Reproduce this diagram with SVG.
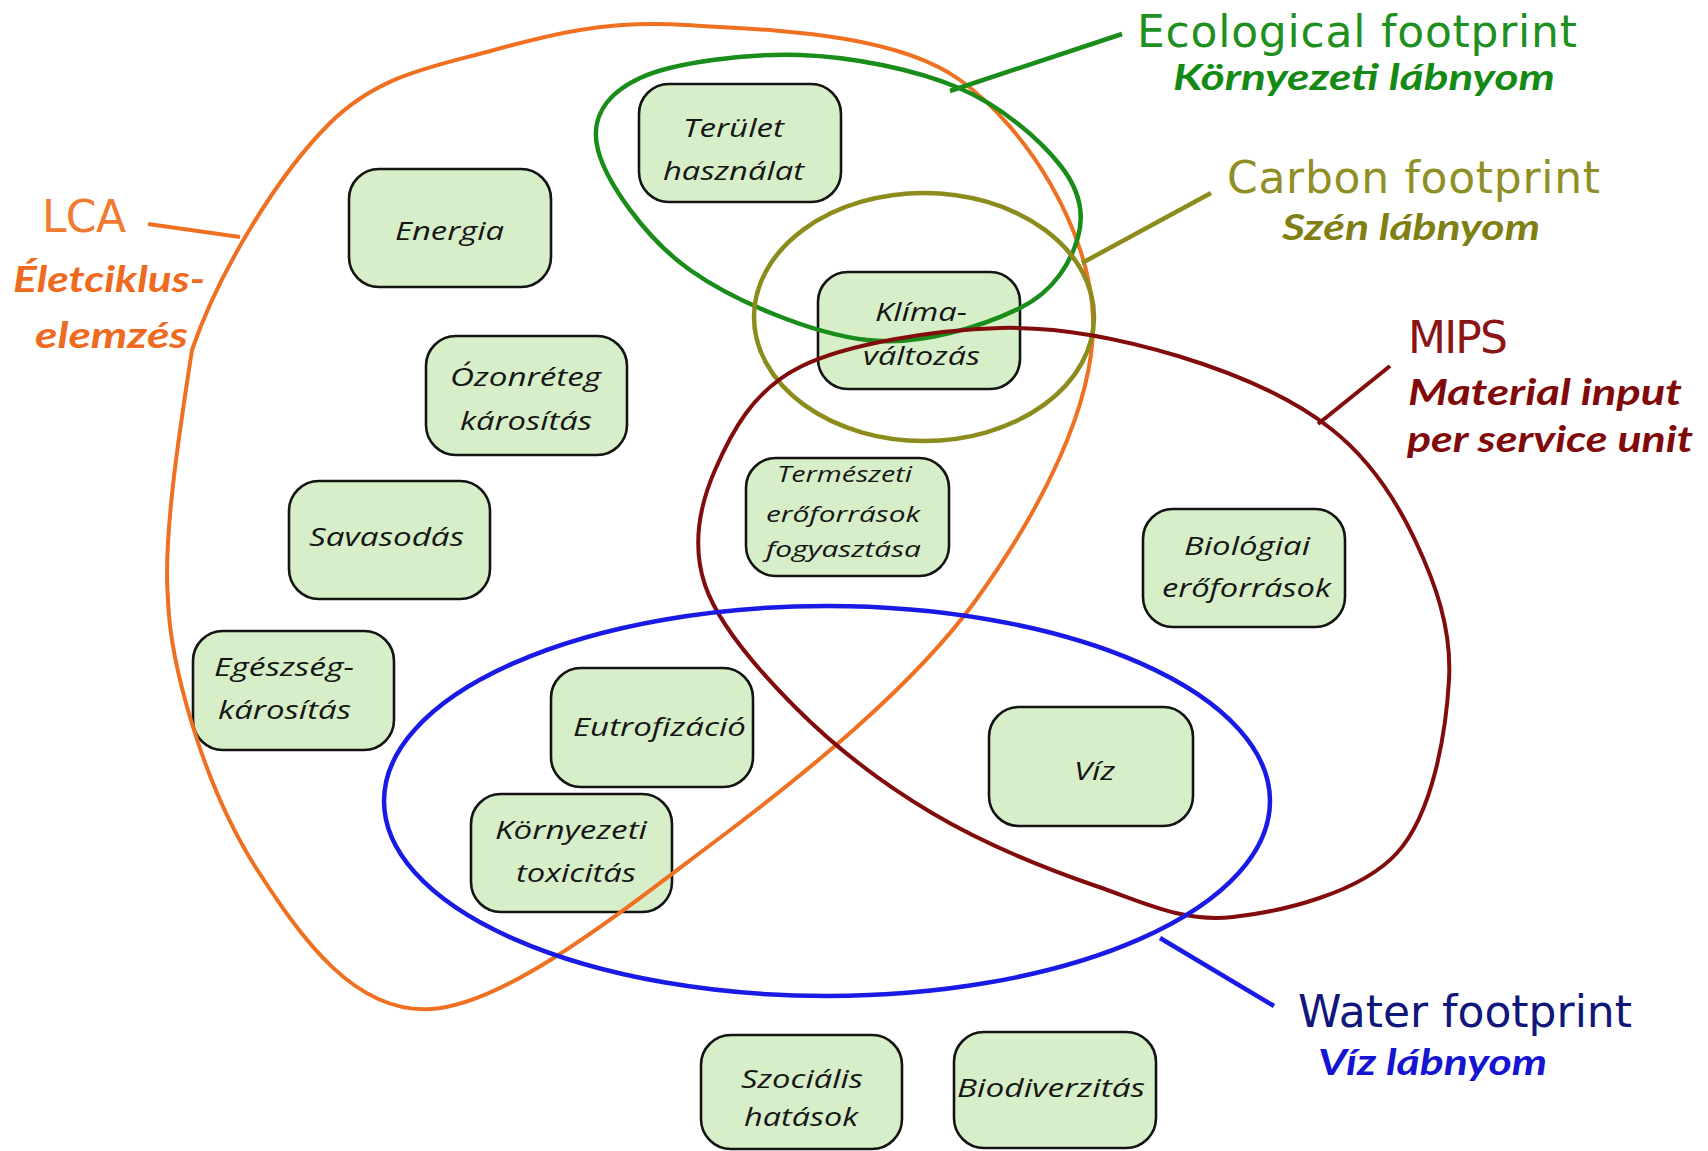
<svg xmlns="http://www.w3.org/2000/svg" width="1708" height="1151" viewBox="0 0 1708 1151">
<style>
.box{fill:#d7efc8;stroke:#141414;stroke-width:2.6}
.nt{font-family:"Open Sans","Noto Sans",sans-serif;font-style:italic;font-weight:500;font-size:25px;fill:#161616;text-anchor:middle}
.nts{font-size:22px}
.hd{font-family:"DejaVu Sans",sans-serif;font-size:44px}
.sub{font-family:Lato,"Open Sans",sans-serif;font-style:italic;font-weight:700;font-size:36px}
.set{fill:none}
</style>
<rect width="1708" height="1151" fill="#ffffff"/>
<g id="node-terulet"><rect class="box" x="639" y="84" width="202" height="118" rx="30"/><text class="nt" x="733.5" y="137" textLength="101" lengthAdjust="spacingAndGlyphs">Terület</text><text class="nt" x="733.5" y="180" textLength="141" lengthAdjust="spacingAndGlyphs">használat</text></g>
<g id="node-energia"><rect class="box" x="349" y="169" width="202" height="118" rx="30"/><text class="nt" x="449.5" y="240" textLength="109" lengthAdjust="spacingAndGlyphs">Energia</text></g>
<g id="node-ozon"><rect class="box" x="426" y="336" width="201" height="119" rx="30"/><text class="nt" x="525.5" y="386" textLength="151" lengthAdjust="spacingAndGlyphs">Ózonréteg</text><text class="nt" x="526" y="430" textLength="132" lengthAdjust="spacingAndGlyphs">károsítás</text></g>
<g id="node-savasodas"><rect class="box" x="289" y="481" width="201" height="118" rx="30"/><text class="nt" x="386.5" y="546" textLength="155" lengthAdjust="spacingAndGlyphs">Savasodás</text></g>
<g id="node-egeszseg"><rect class="box" x="193" y="631" width="201" height="119" rx="30"/><text class="nt" x="284" y="676" textLength="140" lengthAdjust="spacingAndGlyphs">Egészség-</text><text class="nt" x="284.5" y="719" textLength="133" lengthAdjust="spacingAndGlyphs">károsítás</text></g>
<g id="node-eutrofizacio"><rect class="box" x="551" y="668" width="202" height="119" rx="30"/><text class="nt" x="659.5" y="736" textLength="173" lengthAdjust="spacingAndGlyphs">Eutrofizáció</text></g>
<g id="node-toxicitas"><rect class="box" x="471" y="794" width="201" height="118" rx="30"/><text class="nt" x="571" y="839" textLength="152" lengthAdjust="spacingAndGlyphs">Környezeti</text><text class="nt" x="576" y="882" textLength="120" lengthAdjust="spacingAndGlyphs">toxicitás</text></g>
<g id="node-klima"><rect class="box" x="818" y="272" width="202" height="117" rx="30"/><text class="nt" x="921" y="321" textLength="92" lengthAdjust="spacingAndGlyphs">Klíma-</text><text class="nt" x="921.5" y="365" textLength="117" lengthAdjust="spacingAndGlyphs">változás</text></g>
<g id="node-termeszeti"><rect class="box" x="746" y="458" width="203" height="118" rx="30"/><text class="nt nts" x="844.5" y="482" textLength="135" lengthAdjust="spacingAndGlyphs">Természeti</text><text class="nt nts" x="843" y="522" textLength="154" lengthAdjust="spacingAndGlyphs">erőforrások</text><text class="nt nts" x="843.5" y="557" textLength="155" lengthAdjust="spacingAndGlyphs">fogyasztása</text></g>
<g id="node-biologiai"><rect class="box" x="1143" y="509" width="202" height="118" rx="30"/><text class="nt" x="1247" y="555" textLength="126" lengthAdjust="spacingAndGlyphs">Biológiai</text><text class="nt" x="1246.5" y="597" textLength="169" lengthAdjust="spacingAndGlyphs">erőforrások</text></g>
<g id="node-viz"><rect class="box" x="989" y="707" width="204" height="119" rx="30"/><text class="nt" x="1094.5" y="780" textLength="41" lengthAdjust="spacingAndGlyphs">Víz</text></g>
<g id="node-szocialis"><rect class="box" x="701" y="1035" width="201" height="114" rx="30"/><text class="nt" x="802" y="1088" textLength="122" lengthAdjust="spacingAndGlyphs">Szociális</text><text class="nt" x="801" y="1126" textLength="114" lengthAdjust="spacingAndGlyphs">hatások</text></g>
<g id="node-biodiverzitas"><rect class="box" x="954" y="1032" width="202" height="116" rx="30"/><text class="nt" x="1051" y="1097" textLength="188" lengthAdjust="spacingAndGlyphs">Biodiverzitás</text></g>
<g id="sets">
<path id="set-lca" class="set" stroke="#f07022" stroke-width="4" d="M686,25 C763.7,30 892.2,31.2 960,80 C1027.8,128.8 1090.3,231.3 1093,318 C1095.7,404.7 1039.3,512.5 976,600 C912.7,687.5 803.8,774.8 713,843 C622.2,911.2 506.8,1004.3 431,1009 C355.2,1013.7 302,939.2 258,871 C201,783 170,660 168,600 C163,540 178,440 192,350 C219,270.7 278.7,174 329,124 C379.3,74 434.5,66.5 494,50 C553.5,33.5 608.3,20 686,25 Z"/>
<path id="set-ecological" class="set" stroke="#198c19" stroke-width="4.5" d="M800,55 C853.2,56.7 915.7,69.7 959,88 C1002.3,106.3 1040.2,140.2 1060,165 C1079.8,189.8 1084.7,213.2 1078,237 C1071.3,260.8 1055.2,290.8 1020,308 C984.8,325.2 922,346.3 867,340 C812,333.7 734.8,301.7 690,270 C645.2,238.3 606.3,182 598,150 C589.7,118 606.3,93.8 640,78 C673.7,62.2 746.8,53.3 800,55 Z"/>
<ellipse id="set-carbon" class="set" stroke="#8c8c1c" stroke-width="4.5" cx="924" cy="317" rx="170" ry="124"/>
<path id="set-mips" class="set" stroke="#820c0c" stroke-width="4" d="M1000,328 C1063,326.2 1123,339.3 1178,356 C1233,372.7 1290.5,397.3 1330,428 C1369.5,458.7 1395.2,498 1415,540 C1434.8,582 1452,627.8 1449,680 C1446,732.2 1433,813.5 1397,853 C1361,892.5 1283.2,911.5 1233,917 C1182.8,922.5 1146.2,903.3 1096,886 C1045.8,868.7 982.2,842.8 932,813 C881.8,783.2 832.8,745 795,707 C757.2,669 718.3,624.5 705,585 C691.7,545.5 699.2,506.3 715,470 C730.8,433.7 752.5,390.7 800,367 C847.5,343.3 937,329.8 1000,328 Z"/>
<ellipse id="set-water" class="set" stroke="#1a1ae6" stroke-width="4.5" cx="827" cy="801" rx="443" ry="195"/>
</g>
<g id="connectors" fill="none">
<line x1="148" y1="224" x2="240" y2="237" stroke="#f07022" stroke-width="4"/>
<line x1="950" y1="91" x2="1122" y2="34" stroke="#198c19" stroke-width="4.5"/>
<line x1="1082" y1="263" x2="1211" y2="193" stroke="#8c8c1c" stroke-width="4.5"/>
<line x1="1318" y1="424" x2="1390" y2="366" stroke="#820c0c" stroke-width="4"/>
<line x1="1160" y1="938" x2="1274" y2="1006" stroke="#1a1ae6" stroke-width="4.5"/>
</g>
<g id="labels">
<text class="hd" x="42" y="232" textLength="84" fill="#f07a30">LCA</text>
<text class="sub" x="13" y="292" textLength="192" lengthAdjust="spacingAndGlyphs" font-size="37" fill="#ee6a1e">Életciklus-</text>
<text class="sub" x="35" y="348" textLength="153" lengthAdjust="spacingAndGlyphs" font-size="37" fill="#ee6a1e">elemzés</text>
<text class="hd" x="1137" y="47" textLength="440" fill="#1f8f1f">Ecological footprint</text>
<text class="sub" x="1173" y="90" textLength="382" lengthAdjust="spacingAndGlyphs" fill="#148a14">Környezeti lábnyom</text>
<text class="hd" x="1227" y="193" textLength="373" fill="#8f8f26">Carbon footprint</text>
<text class="sub" x="1282" y="240" textLength="258" lengthAdjust="spacingAndGlyphs" fill="#7f7f14">Szén lábnyom</text>
<text class="hd" x="1408" y="353" textLength="100" fill="#8b1414">MIPS</text>
<text class="sub" x="1408" y="405" textLength="274" lengthAdjust="spacingAndGlyphs" font-size="41" fill="#800a0a">Material input</text>
<text class="sub" x="1407" y="452" textLength="286" lengthAdjust="spacingAndGlyphs" font-size="41" fill="#800a0a">per service unit</text>
<text class="hd" x="1298" y="1027" textLength="334" fill="#10167a">Water footprint</text>
<text class="sub" x="1318" y="1075" textLength="229" lengthAdjust="spacingAndGlyphs" font-size="35" fill="#1414d2">Víz lábnyom</text>
</g>
</svg>
